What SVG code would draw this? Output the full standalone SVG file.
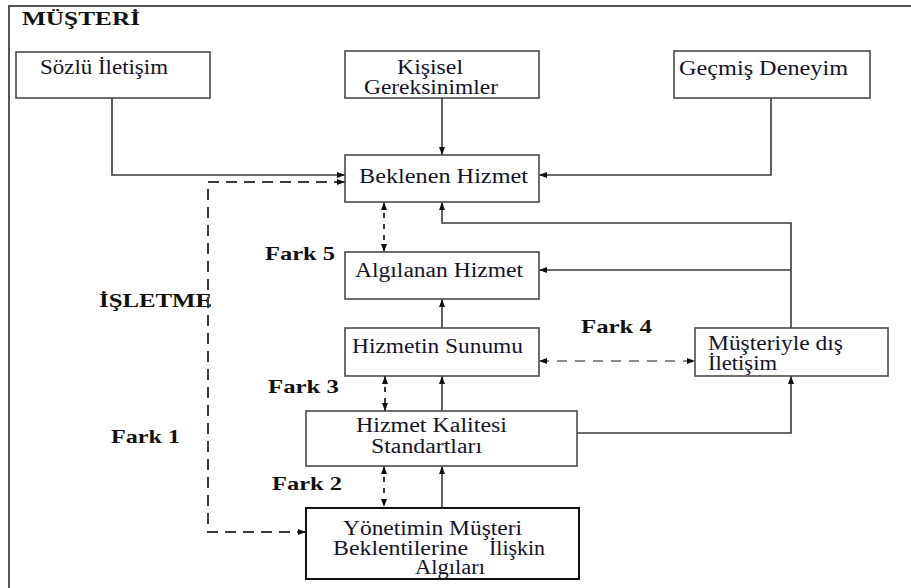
<svg xmlns="http://www.w3.org/2000/svg" width="911" height="588" viewBox="0 0 911 588">
  <style>
    .box { fill: #ffffff; stroke: #4a4a4a; stroke-width: 1.6; }
    .box-dark { fill: #ffffff; stroke: #111111; stroke-width: 2; }
    .lbl { font-family: "Liberation Serif", "Times New Roman", serif; font-size: 20px; fill: #14142a; }
    .hdr { font-family: "Liberation Serif", "Times New Roman", serif; font-size: 19px; font-weight: bold; fill: #111111; }
    .line { fill: none; stroke: #3a3a3a; stroke-width: 1.6; }
    .dash { fill: none; stroke: #3a3a3a; stroke-width: 2; stroke-dasharray: 11 7; }
    .dot { fill: none; stroke: #3a3a3a; stroke-width: 2; stroke-dasharray: 5 6; }
    .dash-grey { fill: none; stroke: #666666; stroke-width: 1.6; stroke-dasharray: 10 8; }
  </style>
  <defs>
    <marker id="arr" viewBox="0 0 8 6" refX="8" refY="3" markerWidth="8" markerHeight="6" markerUnits="userSpaceOnUse" orient="auto-start-reverse">
      <path d="M0,0 L8,3 L0,6 z" fill="#111111"/>
    </marker>
  </defs>

  <rect x="0" y="0" width="911" height="588" fill="#ffffff"/>

  <!-- outer frame: top and left edges -->
  <path d="M9,588 V6 H911" fill="none" stroke="#555555" stroke-width="2"/>

  <!-- section titles and gap labels -->
  <g id="titles">
    <text class="hdr" x="22" y="25" textLength="118" lengthAdjust="spacingAndGlyphs">MÜŞTERİ</text>
    <text class="hdr" x="99" y="307" textLength="113" lengthAdjust="spacingAndGlyphs">İŞLETME</text>
    <text class="hdr" x="265" y="260" textLength="70" lengthAdjust="spacingAndGlyphs">Fark 5</text>
    <text class="hdr" x="581" y="333" textLength="71" lengthAdjust="spacingAndGlyphs">Fark 4</text>
    <text class="hdr" x="268" y="393" textLength="71" lengthAdjust="spacingAndGlyphs">Fark 3</text>
    <text class="hdr" x="111" y="443" textLength="69" lengthAdjust="spacingAndGlyphs">Fark 1</text>
    <text class="hdr" x="272" y="490" textLength="70" lengthAdjust="spacingAndGlyphs">Fark 2</text>
  </g>

  <!-- connectors -->
  <g id="connectors">
    <path class="line" d="M112,98 V175 H345" marker-end="url(#arr)"/>
    <path class="line" d="M442,98 V155" marker-end="url(#arr)"/>
    <path class="line" d="M771,98 V175 H539" marker-end="url(#arr)"/>
    <path class="line" d="M791,328 V223 H442 V202" marker-end="url(#arr)"/>
    <path class="line" d="M791,270 H539" marker-end="url(#arr)"/>
    <path class="line" d="M442,328 V299" marker-end="url(#arr)"/>
    <path class="line" d="M442,411 V376" marker-end="url(#arr)"/>
    <path class="line" d="M442,507 V466" marker-end="url(#arr)"/>
    <path class="line" d="M577,433 H791 V376" marker-end="url(#arr)"/>
    <!-- gap 5 -->
    <path class="dot" d="M384,202 V252" marker-start="url(#arr)" marker-end="url(#arr)"/>
    <!-- gap 3 -->
    <path class="dot" d="M385,376 V411" marker-start="url(#arr)" marker-end="url(#arr)"/>
    <!-- gap 2 -->
    <path class="dot" d="M384,466 V507" marker-start="url(#arr)" marker-end="url(#arr)"/>
    <!-- gap 4 -->
    <path class="dash-grey" d="M539,361 H695" marker-start="url(#arr)" marker-end="url(#arr)"/>
    <!-- gap 1 -->
    <path class="dash" d="M345,182 H208 V532 H306" marker-start="url(#arr)" marker-end="url(#arr)"/>
  </g>

  <!-- nodes -->
  <g id="sozlu-iletisim">
    <rect class="box" x="16" y="52" width="194" height="46"/>
    <text class="lbl" x="40" y="74" textLength="128" lengthAdjust="spacingAndGlyphs">Sözlü İletişim</text>
  </g>
  <g id="kisisel-gereksinimler">
    <rect class="box" x="345" y="51" width="194" height="47"/>
    <text class="lbl" x="397" y="74" textLength="66" lengthAdjust="spacingAndGlyphs">Kişisel</text>
    <text class="lbl" x="364" y="94" textLength="134" lengthAdjust="spacingAndGlyphs">Gereksinimler</text>
  </g>
  <g id="gecmis-deneyim">
    <rect class="box" x="674" y="51" width="196" height="47"/>
    <text class="lbl" x="679" y="75" textLength="169" lengthAdjust="spacingAndGlyphs">Geçmiş Deneyim</text>
  </g>
  <g id="beklenen-hizmet">
    <rect class="box" x="345" y="155" width="194" height="47"/>
    <text class="lbl" x="359" y="183" textLength="169" lengthAdjust="spacingAndGlyphs">Beklenen Hizmet</text>
  </g>
  <g id="algilanan-hizmet">
    <rect class="box" x="345" y="252" width="194" height="47"/>
    <text class="lbl" x="355" y="277" textLength="168" lengthAdjust="spacingAndGlyphs">Algılanan Hizmet</text>
  </g>
  <g id="hizmetin-sunumu">
    <rect class="box" x="345" y="328" width="194" height="48"/>
    <text class="lbl" x="352" y="353" textLength="171" lengthAdjust="spacingAndGlyphs">Hizmetin Sunumu</text>
  </g>
  <g id="musteriyle-dis-iletisim">
    <rect class="box" x="695" y="328" width="193" height="48"/>
    <text class="lbl" x="708" y="350" textLength="135" lengthAdjust="spacingAndGlyphs">Müşteriyle dış</text>
    <text class="lbl" x="708" y="370" textLength="69" lengthAdjust="spacingAndGlyphs">İletişim</text>
  </g>
  <g id="hizmet-kalitesi-standartlari">
    <rect class="box" x="306" y="411" width="271" height="55"/>
    <text class="lbl" x="356" y="432" textLength="151" lengthAdjust="spacingAndGlyphs">Hizmet Kalitesi</text>
    <text class="lbl" x="371" y="453" textLength="111" lengthAdjust="spacingAndGlyphs">Standartları</text>
  </g>
  <g id="yonetimin-algilari">
    <rect class="box-dark" x="306" y="508" width="273" height="71"/>
    <text class="lbl" x="343" y="535" textLength="179" lengthAdjust="spacingAndGlyphs">Yönetimin Müşteri</text>
    <text class="lbl" x="333" y="555" textLength="135" lengthAdjust="spacingAndGlyphs">Beklentilerine</text>
    <text class="lbl" x="489" y="555" textLength="56" lengthAdjust="spacingAndGlyphs">İlişkin</text>
    <text class="lbl" x="415" y="574" textLength="70" lengthAdjust="spacingAndGlyphs">Algıları</text>
  </g>
</svg>
